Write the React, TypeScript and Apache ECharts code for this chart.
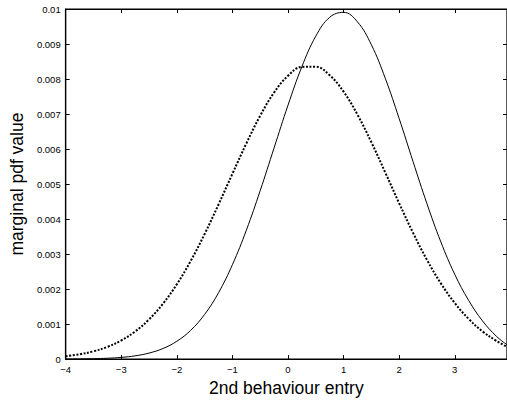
import React, { useEffect, useRef } from "react";
import * as echarts from "echarts";

const xValues = [
  -4, -3.75, -3.5, -3.25, -3, -2.75, -2.5, -2.25, -2, -1.75, -1.5, -1.25, -1, -0.75, -0.5, -0.25,
  0, 0.25, 0.5, 0.75, 1, 1.25, 1.5, 1.75, 2, 2.25, 2.5, 2.75, 3, 3.25, 3.5, 3.75, 3.94,
];

const solidValues = [
  0.0000024, 0.0000054, 0.0000117, 0.0000244, 0.0000488, 0.0000934, 0.000172, 0.000302, 0.00051,
  0.000823, 0.001276, 0.001895, 0.002697, 0.00368, 0.004813, 0.006035, 0.007252, 0.008354, 0.009224,
  0.009763, 0.009905, 0.009632, 0.008978, 0.008021, 0.00687, 0.00564, 0.004438, 0.003347, 0.00242,
  0.001677, 0.00109, 0.00065, 0.00041,
];

const dottedValues = [
  0.000082, 0.000137, 0.000222, 0.000349, 0.000533, 0.000789, 0.001134, 0.001581, 0.002138, 0.002806,
  0.003574, 0.004416, 0.005294, 0.006159, 0.006953, 0.007615, 0.008093, 0.008346, 0.008351, 0.008108,
  0.007638, 0.006982, 0.006193, 0.00533, 0.00445, 0.003606, 0.002835, 0.002163, 0.001601, 0.00115,
  0.00079, 0.00052, 0.00035,
];

const xTickLabels = ["\u22124", "\u22123", "\u22122", "\u22121", "0", "1", "2", "3"];
const yTickLabels = ["0", "0.001", "0.002", "0.003", "0.004", "0.005", "0.006", "0.007", "0.008", "0.009", "0.01"];

const xName = "2nd behaviour entry";
const yName = "marginal pdf value";

const FONT = "'Liberation Sans', Arial, Helvetica, sans-serif";

export default function App() {
  const ref = useRef<HTMLDivElement>(null);

  useEffect(() => {
    if (!ref.current) return;
    const chart = echarts.init(ref.current, null, { renderer: "svg" });
    const xLabel = (v: number) => {
      const i = Math.round(v + 4);
      return Math.abs(v - Math.round(v)) < 1e-6 && i >= 0 && i < xTickLabels.length ? xTickLabels[i] : "";
    };
    const yLabel = (v: number) => {
      const i = Math.round(v / 0.001);
      return i >= 0 && i < yTickLabels.length ? yTickLabels[i] : "";
    };
    const mkLine = () => ({ show: true, onZero: false, lineStyle: { color: "#000", width: 1.2 } });
    const mkTick = () => ({ show: true, inside: true, length: 4, lineStyle: { color: "#000", width: 1 } });
    chart.setOption({
      animation: false,
      backgroundColor: "#fff",
      grid: {
        left: 60,
        right: 0,
        top: 9,
        bottom: 40,
        containLabel: false,
        show: true,
        borderColor: "#000",
        borderWidth: 1.2,
        backgroundColor: "transparent",
      },
      xAxis: [
        {
          type: "value",
          min: -4,
          max: 3.94,
          interval: 1,
          position: "bottom",
          axisLine: mkLine(),
          axisTick: mkTick(),
          splitLine: { show: false },
          axisLabel: {
            formatter: xLabel,
            color: "#000",
            fontSize: 9.5,
            fontFamily: FONT,
            margin: 5,
            showMaxLabel: false,
          },
          name: xName,
          nameLocation: "middle",
          nameGap: 14,
          nameTextStyle: { color: "#000", fontSize: 17.5, fontFamily: FONT, verticalAlign: "top" },
        },
        {
          type: "value",
          min: -4,
          max: 3.94,
          interval: 1,
          position: "top",
          axisLine: mkLine(),
          axisTick: mkTick(),
          splitLine: { show: false },
          axisLabel: { show: false },
        },
      ],
      yAxis: [
        {
          type: "value",
          min: 0,
          max: 0.01,
          interval: 0.001,
          position: "left",
          axisLine: mkLine(),
          axisTick: mkTick(),
          splitLine: { show: false },
          axisLabel: { formatter: yLabel, color: "#000", fontSize: 9.5, fontFamily: FONT, margin: 5 },
          name: yName,
          nameLocation: "middle",
          nameGap: 35,
          nameTextStyle: { color: "#000", fontSize: 17.5, fontFamily: FONT },
        },
        {
          type: "value",
          min: 0,
          max: 0.01,
          interval: 0.001,
          position: "right",
          axisLine: mkLine(),
          axisTick: mkTick(),
          splitLine: { show: false },
          axisLabel: { show: false },
        },
      ],
      series: [
        {
          type: "line",
          xAxisIndex: 0,
          yAxisIndex: 0,
          data: xValues.map((x, i) => [x, solidValues[i]]),
          showSymbol: false,
          smooth: 0.4,
          lineStyle: { color: "#000", width: 1 },
        },
        {
          type: "line",
          xAxisIndex: 0,
          yAxisIndex: 0,
          data: xValues.map((x, i) => [x, dottedValues[i]]),
          showSymbol: false,
          smooth: 0.4,
          lineStyle: { color: "#000", width: 2, type: [2, 1.6] },
        },
      ],
    });
    return () => chart.dispose();
  }, []);

  return (
    <div
      ref={ref}
      style={{ position: "fixed", left: 0, top: 0, width: 507, height: 402, background: "#fff" }}
    />
  );
}
